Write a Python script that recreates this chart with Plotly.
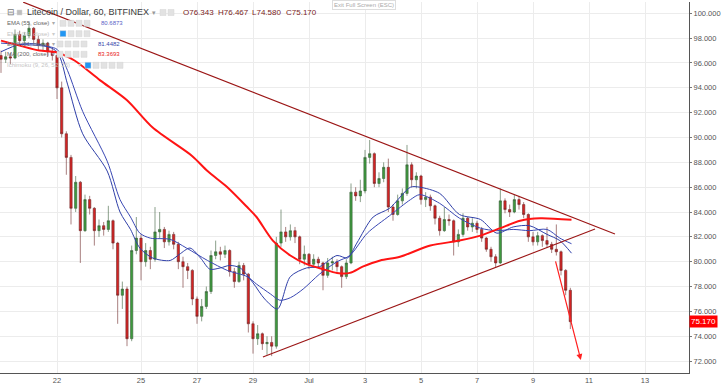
import plotly.graph_objects as go
import pandas as pd

# ---------------- data (4-hour candles) ----------------
candle_start = "2018-06-20 00:00"
first_open = 96.6
candle_close = [96.3, 96.5, 96.4, 98.3, 97.8, 98.2, 98.8, 97.9, 97.4, 97.6, 96.9, 96.6,
                94.0, 90.3, 88.4, 84.3, 86.4, 82.5, 85.0, 84.3, 82.5, 82.9, 82.6, 83.3,
                81.5, 77.3, 77.8, 73.8, 80.9, 81.9, 80.0, 80.9, 80.2, 82.4, 82.6, 81.6,
                82.2, 81.4, 80.0, 79.6, 79.3, 77.0, 75.6, 76.4, 77.6, 80.5, 80.8, 80.6,
                80.9, 79.2, 78.4, 79.7, 79.0, 75.0, 73.8, 74.2, 73.4, 73.5, 73.2, 81.5,
                82.4, 82.0, 82.5, 82.0, 80.2, 80.6, 79.8, 80.2, 79.9, 78.9, 79.9, 80.0,
                79.6, 78.8, 79.9, 85.6, 85.3, 85.7, 88.4, 88.7, 86.3, 86.7, 87.6, 84.4,
                83.8, 84.9, 85.5, 87.8, 86.6, 86.9, 85.0, 85.2, 84.5, 83.5, 82.5, 83.4,
                83.3, 81.6, 82.2, 83.5, 82.8, 83.1, 82.6, 81.9, 81.0, 80.4, 79.9, 84.9,
                84.2, 84.0, 85.0, 84.6, 83.8, 82.0, 81.6, 82.1, 81.7, 81.4, 81.0, 80.8,
                79.3, 77.7, 75.17]
candle_high = [97.0, 96.9, 96.8, 98.7, 98.6, 98.5, 99.3, 98.9, 98.2, 97.9, 97.7, 97.2,
               96.7, 94.5, 90.5, 88.6, 86.9, 86.5, 85.4, 85.3, 84.4, 83.4, 83.2, 84.5,
               83.4, 81.6, 78.4, 78.0, 81.3, 83.6, 82.2, 81.5, 81.2, 84.4, 84.0, 82.8,
               82.5, 82.4, 81.6, 80.4, 79.9, 79.4, 77.2, 77.0, 78.0, 80.9, 81.7, 81.2,
               81.3, 81.0, 79.5, 80.0, 79.9, 79.1, 75.2, 74.9, 74.3, 74.0, 74.0, 82.0,
               84.2, 82.8, 83.0, 82.8, 82.1, 81.3, 80.7, 80.6, 80.4, 80.0, 80.3, 80.4,
               80.2, 79.7, 80.2, 86.3, 86.0, 86.6, 89.0, 89.8, 88.8, 87.2, 88.0, 88.3,
               84.6, 85.4, 85.9, 89.4, 88.0, 87.2, 87.0, 85.6, 85.4, 84.6, 83.7, 84.4,
               83.8, 83.4, 82.6, 83.9, 83.6, 83.5, 83.3, 82.8, 82.0, 81.2, 80.6, 85.9,
               85.1, 84.6, 85.4, 85.3, 84.8, 83.9, 82.4, 82.4, 82.2, 82.8, 81.6, 83.0,
               80.9, 79.4, 77.9]
candle_low = [95.2, 96.0, 95.9, 96.3, 97.4, 97.5, 98.0, 97.6, 97.0, 96.9, 96.5, 96.2,
              93.1, 90.0, 87.0, 83.0, 84.0, 79.9, 82.4, 83.8, 81.3, 82.0, 82.1, 82.4,
              81.0, 75.0, 76.2, 73.2, 73.6, 80.6, 78.5, 79.6, 79.4, 80.0, 81.9, 81.1,
              81.3, 81.0, 79.4, 77.9, 78.6, 76.5, 75.0, 75.2, 76.2, 77.4, 80.2, 80.1,
              80.3, 78.8, 77.9, 78.3, 78.5, 74.3, 72.6, 73.3, 72.9, 72.5, 72.4, 73.0,
              81.2, 81.6, 81.7, 81.5, 79.8, 79.7, 79.4, 79.5, 79.5, 77.7, 78.7, 79.3,
              79.2, 77.9, 78.6, 79.8, 84.9, 84.8, 85.5, 87.9, 86.0, 86.0, 86.4, 84.0,
              83.3, 83.7, 84.6, 85.3, 86.0, 85.9, 84.6, 84.4, 84.1, 83.0, 82.1, 82.4,
              82.9, 80.5, 81.2, 82.0, 82.5, 82.4, 82.3, 81.6, 80.8, 80.0, 79.5, 79.8,
              83.9, 83.6, 83.9, 84.2, 83.5, 81.6, 81.3, 81.3, 81.2, 81.1, 80.7, 80.5,
              78.9, 77.3, 74.58]

# moving averages (read at sample points)
ma200_time = ["2018-06-20 00:00", "2018-06-20 16:00", "2018-06-21 09:00", "2018-06-22 00:00",
              "2018-06-22 15:00", "2018-06-23 13:00", "2018-06-24 12:00", "2018-06-25 10:00",
              "2018-06-26 20:00", "2018-06-27 09:00", "2018-06-28 02:00", "2018-06-28 19:00",
              "2018-06-29 03:00", "2018-06-29 17:00", "2018-06-30 08:00", "2018-06-30 22:00",
              "2018-07-01 12:00", "2018-07-02 00:00", "2018-07-02 11:00", "2018-07-02 22:00",
              "2018-07-03 13:00", "2018-07-04 06:00", "2018-07-05 08:00", "2018-07-06 09:00",
              "2018-07-07 03:00", "2018-07-07 20:00", "2018-07-08 13:00", "2018-07-09 06:00",
              "2018-07-10 09:00"]
ma200_val = [97.8, 97.4, 97.0, 96.85, 96.2, 94.6, 93.0, 90.8, 88.5, 87.3, 86.0, 84.4,
             83.6, 81.7, 80.5, 79.8, 79.4, 79.1, 79.1, 79.6, 80.1, 80.4, 81.3, 81.7,
             82.1, 82.7, 83.3, 83.5, 83.3693]

ema_fast_time = ["2018-06-20 00:00", "2018-06-20 16:00", "2018-06-21 09:00", "2018-06-22 00:00",
                 "2018-06-22 09:00", "2018-06-22 22:00", "2018-06-23 19:00", "2018-06-24 06:00",
                 "2018-06-24 15:00", "2018-06-24 23:00", "2018-06-25 10:00", "2018-06-26 01:00",
                 "2018-06-26 09:00", "2018-06-26 18:00", "2018-06-27 03:00", "2018-06-27 11:00",
                 "2018-06-27 20:00", "2018-06-28 04:00", "2018-06-28 13:00", "2018-06-29 00:00",
                 "2018-06-29 10:00", "2018-06-29 21:00", "2018-06-30 08:00", "2018-06-30 22:00",
                 "2018-07-01 09:00", "2018-07-02 00:00", "2018-07-02 09:00", "2018-07-02 17:00",
                 "2018-07-03 07:00", "2018-07-03 21:00", "2018-07-04 15:00", "2018-07-04 23:00",
                 "2018-07-05 16:00", "2018-07-06 09:00", "2018-07-07 03:00", "2018-07-07 17:00",
                 "2018-07-08 07:00", "2018-07-08 21:00", "2018-07-09 12:00", "2018-07-09 23:00",
                 "2018-07-10 09:00"]
ema_fast_val = [96.9, 97.5, 97.5, 96.9, 94.3, 90.3, 87.3, 84.0, 82.6, 81.1, 80.3, 80.1,
                80.6, 81.1, 80.3, 79.4, 79.5, 79.7, 79.5, 78.3, 77.0, 76.2, 78.8, 79.5,
                79.6, 80.5, 80.3, 81.5, 83.6, 84.3, 86.0, 86.0, 85.5, 83.8, 83.4, 82.3,
                82.8, 82.9, 82.2, 81.7, 80.6873]

ema_slow_time = ["2018-06-20 00:00", "2018-06-20 16:00", "2018-06-21 09:00", "2018-06-22 00:00",
                 "2018-06-22 09:00", "2018-06-22 22:00", "2018-06-23 19:00", "2018-06-24 06:00",
                 "2018-06-24 15:00", "2018-06-24 23:00", "2018-06-25 08:00", "2018-06-26 01:00",
                 "2018-06-26 15:00", "2018-06-27 09:00", "2018-06-28 02:00", "2018-06-28 19:00",
                 "2018-06-29 03:00", "2018-06-29 15:00", "2018-06-29 23:00", "2018-06-30 08:00",
                 "2018-06-30 19:00", "2018-07-01 09:00", "2018-07-02 00:00", "2018-07-02 11:00",
                 "2018-07-03 02:00", "2018-07-03 21:00", "2018-07-04 15:00", "2018-07-04 23:00",
                 "2018-07-05 16:00", "2018-07-06 09:00", "2018-07-07 03:00", "2018-07-07 17:00",
                 "2018-07-08 07:00", "2018-07-08 21:00", "2018-07-09 12:00", "2018-07-09 23:00",
                 "2018-07-10 09:00"]
ema_slow_val = [97.6, 97.5, 97.4, 97.1, 95.4, 92.1, 88.1, 85.0, 83.6, 82.3, 81.9, 81.8,
                81.1, 80.1, 79.3, 78.8, 78.2, 77.4, 76.9, 77.1, 77.8, 79.0, 80.0, 80.5,
                82.3, 83.7, 85.0, 85.4, 84.7, 83.5, 82.7, 82.5, 82.6, 82.5, 82.6, 81.9,
                81.4482]

# drawn trend lines and arrow
upper_line_time = ["2018-06-20 19:00", "2018-07-11 22:15"]
upper_line_val = [100.9, 82.23]
lower_line_time = ["2018-06-29 08:30", "2018-07-11 05:10"]
lower_line_val = [72.33, 82.63]
arrow_time = ["2018-07-09 19:00", "2018-07-10 17:00"]
arrow_val = [80.14, 72.09]

tick_dates = ["2018-06-22", "2018-06-25", "2018-06-27", "2018-06-29", "2018-07-01",
              "2018-07-03", "2018-07-05", "2018-07-07", "2018-07-09", "2018-07-11", "2018-07-13"]
tick_text = ["22", "25", "27", "29", "Jul", "3", "5", "7", "9", "11", "13"]
y_ticks = [72, 74, 76, 78, 80, 82, 84, 86, 88, 90, 92, 94, 96, 98, 100]
last_price = 75.17
ohlc_text = ["O76.343", "H76.467", "L74.580", "C75.170"]

# ---------------- figure ----------------
times = pd.date_range(candle_start, periods=len(candle_close), freq="4h")
opens = [first_open] + candle_close[:-1]

W, H = 722, 388
ML, MR, MT, MB = 0, 33, 2, 15
PW, PH = W - ML - MR, H - MT - MB


def px(x):
    return (x - ML) / PW


def py(y):
    return 1 - (y - MT) / PH


fig = go.Figure()
fig.add_trace(go.Candlestick(
    x=times, open=opens, high=candle_high, low=candle_low, close=candle_close,
    increasing=dict(line=dict(color="#3d5f3d", width=0.6), fillcolor="#3e9a3e"),
    decreasing=dict(line=dict(color="#6e2a2a", width=0.6), fillcolor="#d42424"),
    whiskerwidth=0, showlegend=False, hoverinfo="skip"))

fig.add_trace(go.Scatter(x=ema_slow_time, y=ema_slow_val, mode="lines",
                         line=dict(color="#3a48b4", width=1, shape="spline", smoothing=0.8),
                         showlegend=False, hoverinfo="skip"))
fig.add_trace(go.Scatter(x=ema_fast_time, y=ema_fast_val, mode="lines",
                         line=dict(color="#2f3fa8", width=1, shape="spline", smoothing=0.8),
                         showlegend=False, hoverinfo="skip"))
fig.add_trace(go.Scatter(x=ma200_time, y=ma200_val, mode="lines",
                         line=dict(color="#ff1414", width=2, shape="spline", smoothing=0.8),
                         showlegend=False, hoverinfo="skip"))
fig.add_trace(go.Scatter(x=upper_line_time, y=upper_line_val, mode="lines",
                         line=dict(color="#9b1515", width=1.1), showlegend=False, hoverinfo="skip"))
fig.add_trace(go.Scatter(x=lower_line_time, y=lower_line_val, mode="lines",
                         line=dict(color="#9b1515", width=1.1), showlegend=False, hoverinfo="skip"))

ann = []
ann.append(dict(x=arrow_time[1], y=arrow_val[1], ax=arrow_time[0], ay=arrow_val[0],
                xref="x", yref="y", axref="x", ayref="y", text="", showarrow=True,
                arrowhead=2, arrowsize=1, arrowwidth=1.2, arrowcolor="#ff2020"))

FONT = "Liberation Sans"


def txt(x, y, s, size, color, anchor="left"):
    ann.append(dict(x=px(x), y=py(y), xref="paper", yref="paper", text=s, showarrow=False,
                    xanchor=anchor, yanchor="middle", font=dict(family=FONT, size=size, color=color)))


# legend header
txt(5, 12.5, "⊟", 9, "#777")
txt(25, 12.5, "Litecoin / Dollar, 60, BITFINEX", 9, "#3a3a3a")
txt(150, 12.5, "▾", 7, "#999")
for xx, s in zip([181, 216, 250, 284], ohlc_text):
    txt(xx, 12.7, s, 8, "#7a2424")
# indicator rows
txt(5, 23.3, "EMA (55, close)", 6, "#666")
txt(50, 23.3, "▾", 6, "#aaa")
txt(99, 23.3, "80.6873", 6, "#5b5fc7")
txt(5, 33.7, "EMA (34, close)", 6, "#c4c4c4")
txt(50, 33.7, "▾", 6, "#ccc")
txt(5, 44, "EMA (21, close)", 6, "#777")
txt(50, 44, "▾", 6, "#aaa")
txt(96, 44, "81.4482", 6, "#3949ab")
txt(5, 54.3, "MA (200, close)", 6, "#666")
txt(50, 54.3, "▾", 6, "#aaa")
txt(96, 54.3, "83.3693", 6, "#e82020")
txt(5, 65.3, "Ichimoku (9, 26, 52, 26)", 6, "#c4c4c4")
txt(76, 65.3, "▾", 6, "#ccc")
# exit full screen hint
ann.append(dict(x=px(364), y=py(5), xref="paper", yref="paper", text="Exit Full Screen (ESC)",
                showarrow=False, xanchor="center", yanchor="middle", bgcolor="white",
                bordercolor="#dddddd", borderwidth=1, borderpad=1,
                font=dict(family=FONT, size=6, color="#aaaaaa")))
# last price label
ann.append(dict(x=1, y=last_price, xref="paper", yref="y", text=f"{last_price:.3f}", showarrow=False,
                xanchor="left", yanchor="middle", bgcolor="#ff0000", borderpad=1, xshift=0,
                font=dict(family=FONT, size=8, color="white")))

shapes = []


def box(x, y, color="#e2e2e2", w=6):
    shapes.append(dict(type="rect", xref="paper", yref="paper", x0=px(x), x1=px(x + w),
                       y0=py(y + w / 2), y1=py(y - w / 2), fillcolor=color,
                       line=dict(color="#d4d4d4", width=0.5), layer="above"))


box(17, 12.5, "#bdbdbd", 5)
for xx in [160, 168]:
    box(xx, 12.5)
for xx in [60, 68, 76, 84]:
    box(xx, 23.3)
for i, xx in enumerate([60, 68, 76, 84]):
    box(xx, 33.7, "#2196f3" if i == 0 else "#e2e2e2")
for xx in [57, 65, 73, 81]:
    box(xx, 44)
for xx in [57, 65, 73, 81]:
    box(xx, 54.3)
for i, xx in enumerate([85, 93, 101, 109, 117]):
    box(xx, 65.3, "#2196f3" if i == 0 else "#e2e2e2")

fig.update_layout(
    width=W, height=H, margin=dict(l=ML, r=MR, t=MT, b=MB),
    paper_bgcolor="white", plot_bgcolor="white",
    annotations=ann, shapes=shapes, showlegend=False,
    xaxis=dict(type="date", range=["2018-06-19 23:08", "2018-07-14 13:43"],
               tickvals=tick_dates, ticktext=tick_text, showgrid=True, gridcolor="#ececec",
               gridwidth=1, showline=True, linecolor="#555", linewidth=1, ticks="",
               tickfont=dict(family=FONT, size=7.5, color="#555"), rangeslider=dict(visible=False),
               zeroline=False, fixedrange=True),
    yaxis=dict(side="right", range=[71.04, 100.91], tickvals=y_ticks, tickformat=".3f",
               showgrid=True, gridcolor="#ececec", gridwidth=1, showline=True, linecolor="#555",
               linewidth=1, ticks="outside", ticklen=2, tickcolor="#777",
               tickfont=dict(family=FONT, size=7.5, color="#555"), zeroline=False, fixedrange=True),
)

fig.write_html("out.html")
